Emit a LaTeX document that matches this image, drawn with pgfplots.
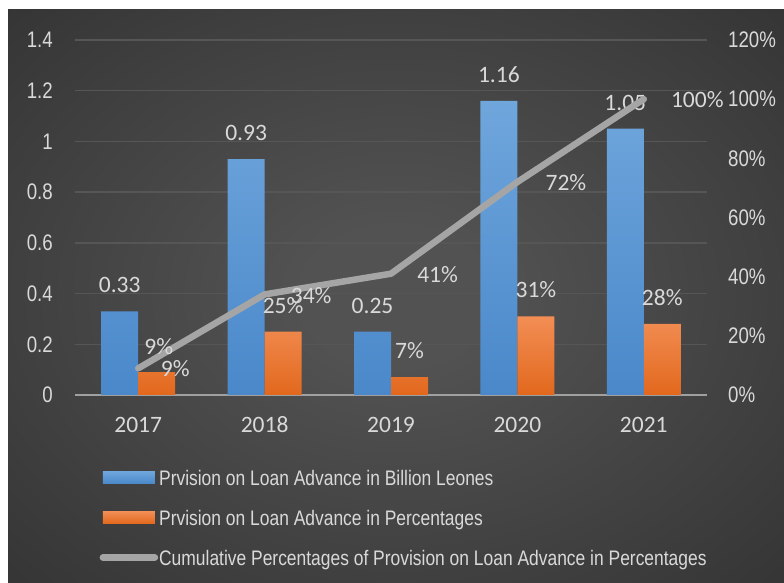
\documentclass[border=0pt]{standalone}
\usepackage{pgfplots}
\pgfplotsset{compat=1.18}
\usepackage{fontspec}
\setmainfont{Carlito}
\newfontfamily\narrowfont[FakeStretch=0.83]{Liberation Sans}

\definecolor{bgin}{HTML}{525252}
\definecolor{bgout}{HTML}{272727}
\definecolor{gridc}{HTML}{565656}
\definecolor{axisc}{HTML}{A0A0A0}
\definecolor{txt}{HTML}{D9D9D9}
\definecolor{bluetop}{HTML}{6FA6DC}
\definecolor{bluebot}{HTML}{4A88CA}
\definecolor{orgtop}{HTML}{F28E55}
\definecolor{orgbot}{HTML}{E2681D}
\definecolor{linec}{HTML}{A5A5A5}

\pgfdeclareradialshading{bgshade}{\pgfpoint{0bp}{0bp}}{color(0bp)=(bgin); color(6bp)=(bgin); color(50bp)=(bgout)}

\newcommand{\lblfont}{\fontsize{23.5}{28}\selectfont}
\newcommand{\tickfont}{\narrowfont\fontsize{22.5}{27}\selectfont}
\newcommand{\legfont}{\narrowfont\fontsize{21}{25}\selectfont}

\begin{document}
\begin{tikzpicture}
\fill[white] (0,0) rectangle (784pt,583pt);
\shade[shading=bgshade] (8pt,0) rectangle (784pt,573pt);

% left axis: bars
\begin{axis}[
    at={(75pt,188pt)}, anchor=south west,
    scale only axis, width=632pt, height=355pt,
    xmin=-0.5, xmax=4.5, ymin=0, ymax=1.4,
    ybar=0pt, bar width=37pt,
    axis x line*=bottom, axis y line*=left,
    y axis line style={draw=none},
    x axis line style={draw=axisc, line width=2.5pt},
    major tick length=0pt,
    ymajorgrids, grid style={draw=gridc, line width=1.5pt},
    xtick={0,1,2,3,4}, xticklabels={2017,2018,2019,2020,2021},
    ytick={0,0.2,0.4,0.6,0.8,1,1.2,1.4},
    /pgf/number format/assume math mode=true,
    xticklabel style={font=\lblfont, text=txt, anchor=base, inner sep=0pt, yshift=-38pt},
    yticklabel style={font=\tickfont, text=txt, anchor=east, inner sep=0pt, xshift=-22pt},
    every node near coord/.append style={font=\lblfont, text=txt, anchor=south, inner sep=0pt},
    legend cell align=left,
    legend style={draw=none, fill=none, inner sep=0pt, outer sep=0pt,
        at={(0.039,-0.2085)}, anchor=north west, row sep=19pt,
        nodes={inner sep=0pt, text height=16pt, text depth=5pt, font=\legfont, text=txt},
        /tikz/every odd column/.append style={column sep=1pt}},
]
\addplot[draw=none, top color=bluetop, bottom color=bluebot,
    legend image code/.code={\path[top color=bluetop, bottom color=bluebot, draw=none] (0pt,-4pt) rectangle (52pt,8pt);},
    nodes near coords={\pgfmathprintnumber[fixed,precision=2,zerofill]{\pgfplotspointmeta}},
    point meta=y,
    every node near coord/.append style={yshift=18pt}]
    coordinates {(0,0.33)(1,0.93)(2,0.25)(3,1.16)(4,1.05)};
\addlegendentry{Prvision on Loan Advance in Billion Leones}

\addplot[draw=none, top color=orgtop, bottom color=orgbot,
    legend image code/.code={\path[top color=orgtop, bottom color=orgbot, draw=none] (0pt,-4pt) rectangle (52pt,8pt);},
    nodes near coords={\pgfmathprintnumber{\pgfplotspointmeta}\%},
    point meta=\thisrow{pct},
    visualization depends on={value \thisrow{dx} \as \dx},
    visualization depends on={value \thisrow{dy} \as \dy},
    every node near coord/.append style={xshift=\dx pt, yshift=\dy pt}]
    table[x=x, y=y] {
    x y    pct dx   dy
    0 0.09 9   18.5 -5
    1 0.25 25  0    18
    2 0.07 7   0    18
    3 0.31 31  0    18
    4 0.28 28  0    18
    };
\addlegendentry{Prvision on Loan Advance in Percentages}

\addlegendimage{legend image code/.code={\draw[draw=linec, line width=6.5pt, line cap=round] (0pt,2pt) -- (52pt,2pt);}}
\addlegendentry{Cumulative Percentages of Provision on Loan Advance in Percentages}
\end{axis}

% right axis: cumulative line
\begin{axis}[
    at={(75pt,188pt)}, anchor=south west,
    scale only axis, width=632pt, height=355pt,
    xmin=-0.5, xmax=4.5, ymin=0, ymax=120,
    axis x line=none, axis y line*=right,
    y axis line style={draw=none},
    major tick length=0pt,
    ytick={0,20,40,60,80,100,120},
    /pgf/number format/assume math mode=true,
    yticklabel={\pgfmathprintnumber{\tick}\%},
    yticklabel style={font=\tickfont, text=txt, anchor=west, inner sep=0pt, xshift=21pt},
    every node near coord/.append style={font=\lblfont, text=txt, anchor=base west, inner sep=0pt},
]
\addplot[draw=linec, line width=6.5pt, line cap=round, line join=round, mark=none,
    nodes near coords={\pgfmathprintnumber{\pgfplotspointmeta}\%},
    point meta=\thisrow{y},
    visualization depends on={value \thisrow{dx} \as \dx},
    visualization depends on={value \thisrow{dy} \as \dy},
    every node near coord/.append style={xshift=\dx pt, yshift=\dy pt}]
    table[x=x, y=y] {
    x y   dx dy
    0 9   3  14
    1 34  23 -9
    2 41  23 -9
    3 72  25 -9
    4 100 24 -8
    };
\end{axis}

\pgfresetboundingbox
\path (0,0) rectangle (784pt,583pt);
\end{tikzpicture}
\end{document}
